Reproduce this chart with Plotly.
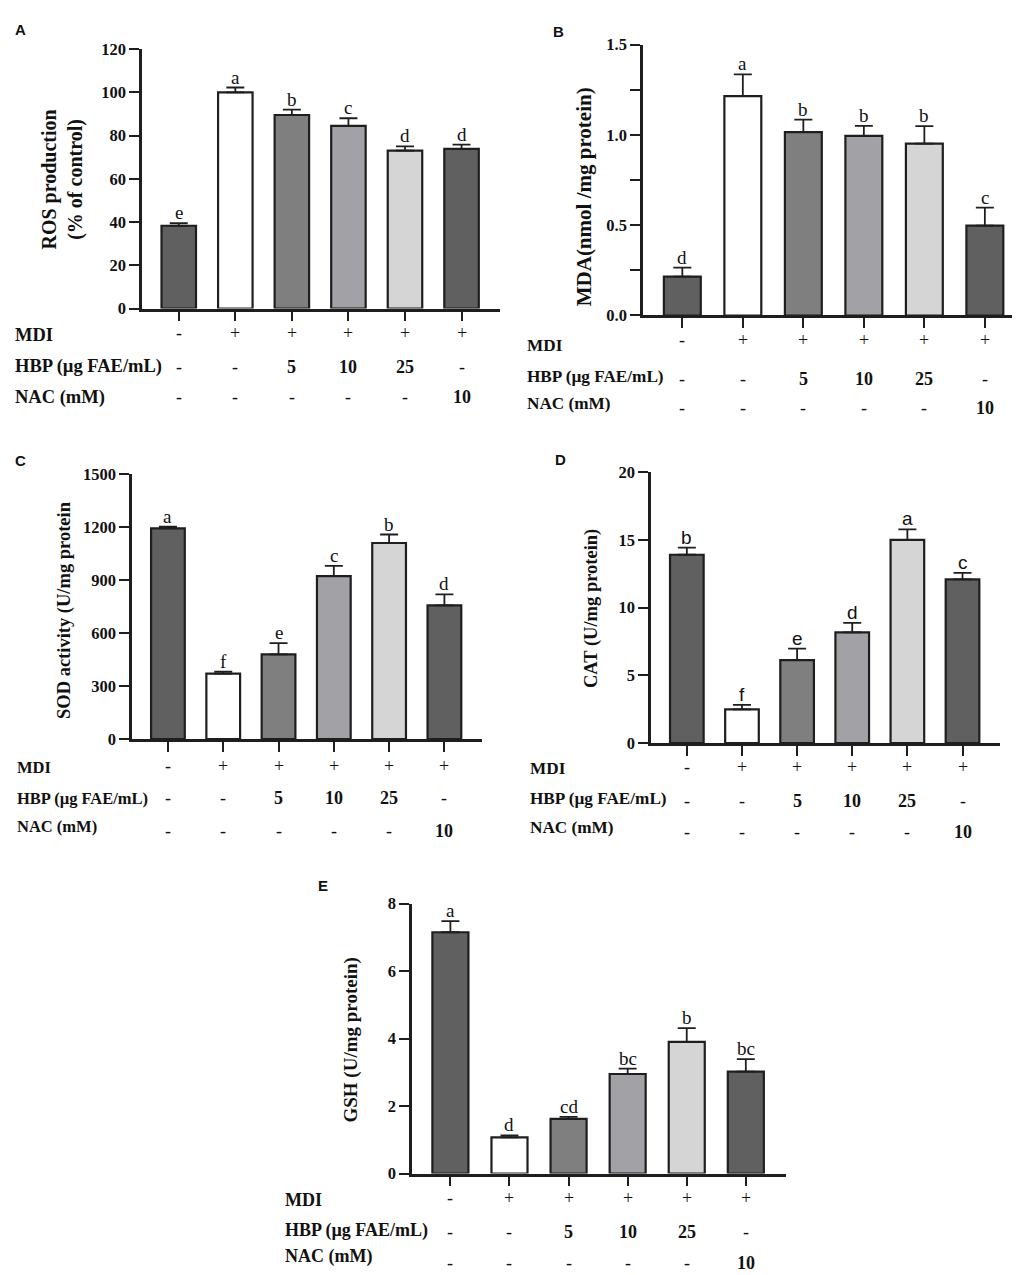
import plotly.graph_objects as go

W, H = 1020, 1275

groups = [0, 1, 2, 3, 4, 5]
mdi_row = ["-", "+", "+", "+", "+", "+"]
hbp_row = ["-", "-", "5", "10", "25", "-"]
nac_row = ["-", "-", "-", "-", "-", "10"]
row_names = ["MDI", "HBP (µg FAE/mL)", "NAC (mM)"]
bar_colors = ["#606060", "#ffffff", "#7f7f7f", "#a1a1a6", "#d5d5d5", "#606060"]

# Panel A: ROS
ros_mean = [38.3, 100.0, 89.5, 84.5, 73.0, 73.8]
ros_err = [1.2, 2.2, 2.5, 3.5, 2.0, 2.0]
ros_letters = ["e", "a", "b", "c", "d", "d"]
# Panel B: MDA
mda_mean = [0.215, 1.215, 1.015, 0.995, 0.952, 0.497]
mda_err = [0.05, 0.12, 0.07, 0.055, 0.097, 0.10]
mda_letters = ["d", "a", "b", "b", "b", "c"]
# Panel C: SOD
sod_mean = [1193, 370, 480, 922, 1110, 757]
sod_err = [9, 12, 63, 59, 48, 62]
sod_letters = ["a", "f", "e", "c", "b", "d"]
# Panel D: CAT
cat_mean = [13.9, 2.48, 6.12, 8.17, 15.0, 12.08]
cat_err = [0.53, 0.33, 0.85, 0.70, 0.77, 0.48]
cat_letters = ["b", "f", "e", "d", "a", "c"]
# Panel E: GSH
gsh_mean = [7.15, 1.07, 1.62, 2.95, 3.9, 3.02]
gsh_err = [0.33, 0.06, 0.06, 0.16, 0.41, 0.37]
gsh_letters = ["a", "d", "cd", "bc", "b", "bc"]

SERIF = "Liberation Serif, Times New Roman, serif"
SANS = "Liberation Sans, Arial, sans-serif"
INK = "#1e1e1e"

panels = [
    dict(tag="A", mean=ros_mean, err=ros_err, letters=ros_letters, ymax=120, dtick=20, minor=None,
         xpx=(134, 492), ypx=(32.5, 296), title="ROS production<br>(% of control)", tpos=(55, 165), tsize=20,
         lpos=(12, 13), rx=5, rsize=18.5, rows_y=[(323, 321), (355, 355), (386, 386)], lfont=SERIF),
    dict(tag="B", mean=mda_mean, err=mda_err, letters=mda_letters, ymax=1.5, dtick=0.5, minor=0.25,
         xpx=(635, 1018), ypx=(28, 303), title="MDA(nmol /mg protein)", tpos=(576, 183), tsize=21,
         lpos=(550, 15), rx=517, rsize=17.2, rows_y=[(333, 328), (365, 367), (392, 397)], lfont=SERIF),
    dict(tag="C", mean=sod_mean, err=sod_err, letters=sod_letters, ymax=1500, dtick=300, minor=None,
         xpx=(124, 474), ypx=(464, 733), title="SOD activity (U/mg protein", tpos=(56, 602), tsize=18.5,
         lpos=(12, 450), rx=7, rsize=16.5, rows_y=[(762, 760), (793, 793), (822, 826)], lfont=SERIF),
    dict(tag="D", mean=cat_mean, err=cat_err, letters=cat_letters, ymax=20, dtick=5, minor=None,
         xpx=(643, 992), ypx=(462, 737), title="CAT (U/mg protein)", tpos=(583, 601), tsize=18.5,
         lpos=(552, 449), rx=520, rsize=17.2, rows_y=[(763, 761), (793, 796), (823, 827)], lfont=SANS),
    dict(tag="E", mean=gsh_mean, err=gsh_err, letters=gsh_letters, ymax=8, dtick=2, minor=None,
         xpx=(404, 778), ypx=(900, 1174), title="GSH (U/mg protein)", tpos=(343, 1039), tsize=19,
         lpos=(315, 882), rx=275, rsize=18, rows_y=[(1201, 1199), (1232, 1233), (1258, 1265)], lfont=SERIF),
]

fig = go.Figure()
annotations = []
layout_axes = {}


def px_x(p):
    return p / W


def px_y(p):
    return 1 - p / H


for i, p in enumerate(panels):
    n = "" if i == 0 else str(i + 1)
    xa, ya = "x" + n, "y" + n
    fig.add_trace(go.Bar(
        x=groups, y=p["mean"], xaxis=xa, yaxis=ya, width=0.61,
        marker=dict(color=bar_colors, line=dict(color=INK, width=2.2)),
        error_y=dict(type="data", symmetric=False, array=p["err"], arrayminus=[0] * 6,
                     color=INK, thickness=1.8, width=9),
        showlegend=False, hoverinfo="skip",
    ))
    xd = [px_x(p["xpx"][0]), px_x(p["xpx"][1])]
    yd = [px_y(p["ypx"][1]), px_y(p["ypx"][0])]
    layout_axes["xaxis" + n] = dict(
        domain=xd, range=[-0.65, 5.68], anchor=ya, showgrid=False, zeroline=False,
        showline=True, linecolor=INK, linewidth=2.5, ticks="outside", ticklen=10,
        tickwidth=2.2, tickcolor=INK, tickvals=groups, showticklabels=False, fixedrange=True,
    )
    yax = dict(
        domain=yd, range=[0, p["ymax"]], anchor=xa, showgrid=False, zeroline=False,
        showline=True, linecolor=INK, linewidth=2.5, ticks="outside", ticklen=10,
        tickwidth=2.2, tickcolor=INK, dtick=p["dtick"], tick0=0,
        tickfont=dict(family=SERIF, size=16.5, color="#111", weight="bold"),
        tickformat=".1f" if p["tag"] == "B" else None, fixedrange=True,
    )
    if p["minor"]:
        yax["minor"] = dict(dtick=p["minor"], ticks="outside", ticklen=10, tickwidth=2.2, tickcolor=INK)
    layout_axes["yaxis" + n] = yax

    # significance letters
    for g, m, e, L in zip(groups, p["mean"], p["err"], p["letters"]):
        annotations.append(dict(
            x=g, y=m + e, xref=xa, yref=ya, text=L, showarrow=False, yanchor="bottom",
            yshift=-2, font=dict(family=p["lfont"], size=19, color="#111"),
        ))
    # panel letter
    annotations.append(dict(
        x=px_x(p["lpos"][0]), y=px_y(p["lpos"][1]), xref="paper", yref="paper",
        text="<b>%s</b>" % p["tag"], showarrow=False, xanchor="center", yanchor="middle",
        font=dict(family=SANS, size=15, color="#111"),
    ))
    # y title
    annotations.append(dict(
        x=px_x(p["tpos"][0]), y=px_y(p["tpos"][1]), xref="paper", yref="paper",
        text="<b>%s</b>" % p["title"], showarrow=False, textangle=-90,
        xanchor="center", yanchor="middle",
        font=dict(family=SERIF, size=p["tsize"], color="#111"),
    ))
    # treatment rows
    for (ly, vy), name, vals in zip(p["rows_y"], row_names, [mdi_row, hbp_row, nac_row]):
        annotations.append(dict(
            x=px_x(p["rx"]), y=px_y(ly), xref="paper", yref="paper", text="<b>%s</b>" % name,
            showarrow=False, xanchor="left", yanchor="middle",
            font=dict(family=SERIF, size=p["rsize"], color="#111"),
        ))
        for g, v in zip(groups, vals):
            annotations.append(dict(
                x=g, y=px_y(vy), xref=xa, yref="paper", text="<b>%s</b>" % v if v not in "+-" else v,
                showarrow=False, xanchor="center", yanchor="middle",
                font=dict(family=SERIF, size=18, color="#111"),
            ))

fig.update_layout(
    width=W, height=H, margin=dict(l=0, r=0, t=0, b=0),
    paper_bgcolor="white", plot_bgcolor="white",
    annotations=annotations, bargap=0.3, **layout_axes,
)

fig.write_html("out.html")
